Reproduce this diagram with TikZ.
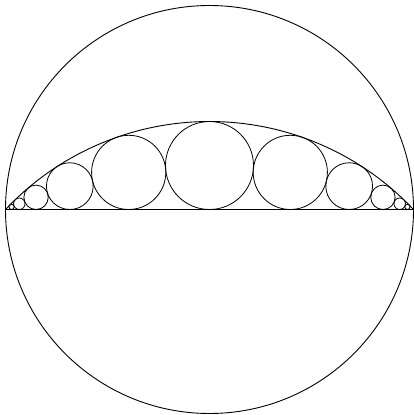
\documentclass[tikz,border=0pt]{standalone}
\tikzset{
  curve/.style={draw=black,line width=0.9pt},
  bead/.style={draw=black,line width=0.8pt},
}
\begin{document}
\begin{tikzpicture}[x=1pt,y=1pt]
  \useasboundingbox (-209.5,-205.5) rectangle (204.5,209.5);
  \coordinate (O) at (0,0);
  \coordinate (A) at (-204,0);
  \coordinate (B) at (204,0);
  % outer circle, its diameter and the cap over it
  \draw[curve] (O) circle[radius=204];
  \draw[curve] (A) -- (B);
  \draw[curve] (A) arc[start angle=136.67,end angle=43.33,radius=280.45];
  % chain of circles between chord and cap
  \draw[bead] (0,44.0) circle[radius=44.0];
  \foreach \x/\r in {80.80/37.10,139.69/23.37,173.45/12.19,190.20/5.75,197.91/2.59}{
    \draw[bead] (\x,\r) circle[radius=\r];
    \draw[bead] (-\x,\r) circle[radius=\r];
  }
\end{tikzpicture}
\end{document}
